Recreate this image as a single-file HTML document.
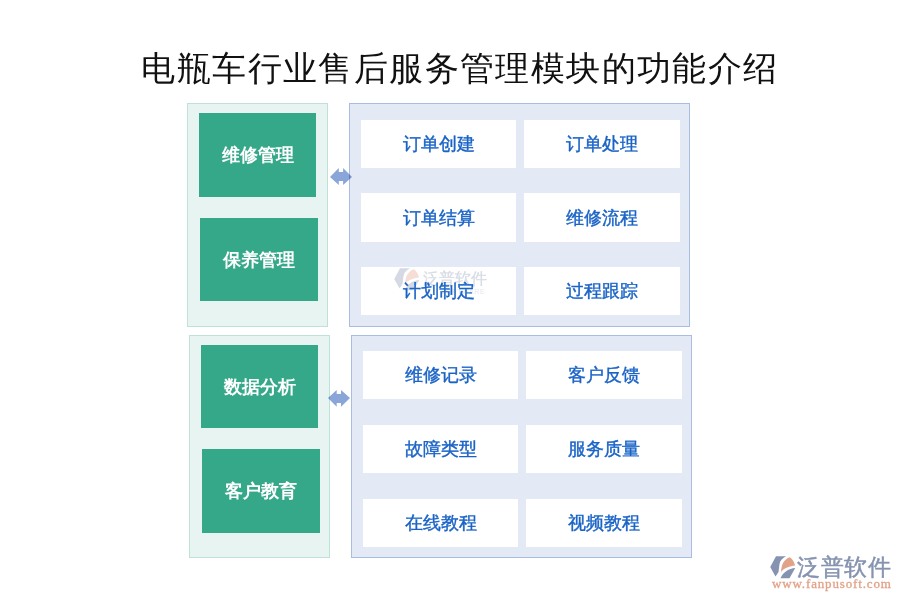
<!DOCTYPE html>
<html><head><meta charset="utf-8">
<style>
html,body{margin:0;padding:0;background:#fff;width:900px;height:600px;overflow:hidden;position:relative}
body{font-family:"Liberation Serif",serif}
.a{position:absolute;box-sizing:border-box}
.title{position:absolute;left:0;top:49px;width:920px;text-align:center;font-size:34px;line-height:40px;letter-spacing:1.4px;color:#111;white-space:nowrap}
.lp{background:#e8f4f1;border:1px solid #bfe2d8}
.rp{background:#e4eaf5;border:1px solid #a9bde3}
.g{background:#36a88a;color:#fff;font-weight:bold;font-size:18px;display:flex;align-items:center;justify-content:center;white-space:nowrap}
.w{background:#fff;color:#1a63c6;font-weight:normal;-webkit-text-stroke:0.4px #1a63c6;font-size:18px;display:flex;align-items:center;justify-content:center;white-space:nowrap}
svg{position:absolute;left:0;top:0}
</style></head><body>
<div class="title">电瓶车行业售后服务管理模块的功能介绍</div>

<div class="a lp" style="left:187px;top:103px;width:141px;height:224px"></div>
<div class="a g" style="left:199px;top:113px;width:117px;height:84px">维修管理</div>
<div class="a g" style="left:200px;top:218px;width:118px;height:83px">保养管理</div>

<div class="a rp" style="left:349px;top:103px;width:341px;height:224px"></div>
<div class="a w" style="left:361px;top:120px;width:155px;height:48px">订单创建</div>
<div class="a w" style="left:524px;top:120px;width:156px;height:48px">订单处理</div>
<div class="a w" style="left:361px;top:193px;width:155px;height:49px">订单结算</div>
<div class="a w" style="left:524px;top:193px;width:156px;height:49px">维修流程</div>
<div class="a w" style="left:361px;top:267px;width:155px;height:48px"><svg width="155" height="48" viewBox="0 0 155 48" style="position:absolute;left:0;top:0">
<g transform="translate(29,-3)">
<path fill="#d4d9e3" d="M4.25,15 L10,4.25 L20,4.25 C16,6.5 14,9 13.5,12 L12.5,20 L9.5,24.5 Z"/>
<path fill="#f4ded6" d="M15,20 C15.5,12.5 17.5,8 23.5,5.25 C26,6.5 28.5,10 29,13.5 C24,14 18,16 15,20 Z"/>
<path fill="#d4d9e3" d="M14.5,26.25 L23.5,26.25 L29.25,16 C23,16.5 17,20 14.5,26.25 Z"/>
</g>
<text x="80" y="27" font-family="Liberation Sans" font-size="7" fill="#e3e6ec" letter-spacing="0.6" stroke="none" style="-webkit-text-stroke:0">SOFTWARE</text>
</svg><div class="a" style="left:62px;top:1px;font-size:16px;line-height:22px;color:#d7dbe4;-webkit-text-stroke:0.25px #d7dbe4;white-space:nowrap">泛普软件</div><span style="position:relative">计划制定</span></div>
<div class="a w" style="left:524px;top:267px;width:156px;height:48px">过程跟踪</div>

<div class="a lp" style="left:189px;top:335px;width:141px;height:223px"></div>
<div class="a g" style="left:201px;top:345px;width:117px;height:83px">数据分析</div>
<div class="a g" style="left:202px;top:449px;width:118px;height:84px">客户教育</div>

<div class="a rp" style="left:351px;top:335px;width:341px;height:223px"></div>
<div class="a w" style="left:363px;top:351px;width:155px;height:48px">维修记录</div>
<div class="a w" style="left:526px;top:351px;width:156px;height:48px">客户反馈</div>
<div class="a w" style="left:363px;top:425px;width:155px;height:48px">故障类型</div>
<div class="a w" style="left:526px;top:425px;width:156px;height:48px">服务质量</div>
<div class="a w" style="left:363px;top:499px;width:155px;height:48px">在线教程</div>
<div class="a w" style="left:526px;top:499px;width:156px;height:48px">视频教程</div>

<svg width="900" height="600" viewBox="0 0 900 600">
<polygon fill="#8aa5d8" style="mix-blend-mode:multiply" points="330,177 338.8,168 338.8,172 343.1,172 343.1,168 352,177 343.1,185 343.1,181 338.8,181 338.8,185"/>
<polygon fill="#8aa5d8" style="mix-blend-mode:multiply" points="328,398 336.7,390 336.7,394 341,394 341,390 350,398 341,406.7 341,403 336.7,403 336.7,406.7"/>
</svg>

<svg width="900" height="600" viewBox="0 0 900 600">
<g transform="translate(766,552)">
<path fill="#8593b0" d="M4.25,15 L10,4.25 L20,4.25 C16,6.5 14,9 13.5,12 L12.5,20 L9.5,24.5 Z"/>
<path fill="#e2a288" d="M15,20 C15.5,12.5 17.5,8 23.5,5.25 C26,6.5 28.5,10 29,13.5 C24,14 18,16 15,20 Z"/>
<path fill="#8593b0" d="M14.5,26.25 L23.5,26.25 L29.25,16 C23,16.5 17,20 14.5,26.25 Z"/>
</g>

</svg>
<div class="a" style="left:797px;top:552px;font-family:'Liberation Sans',sans-serif;font-size:23px;line-height:30px;color:#8593b0;-webkit-text-stroke:0.5px #8593b0;white-space:nowrap;letter-spacing:0.5px">泛普软件</div>
<div class="a" style="left:772px;top:576px;font-family:'Liberation Serif',serif;font-size:13px;line-height:16px;color:#e2a288;-webkit-text-stroke:0.3px #e2a288;white-space:nowrap;letter-spacing:0.85px">www.fanpusoft.com</div>
</body></html>
